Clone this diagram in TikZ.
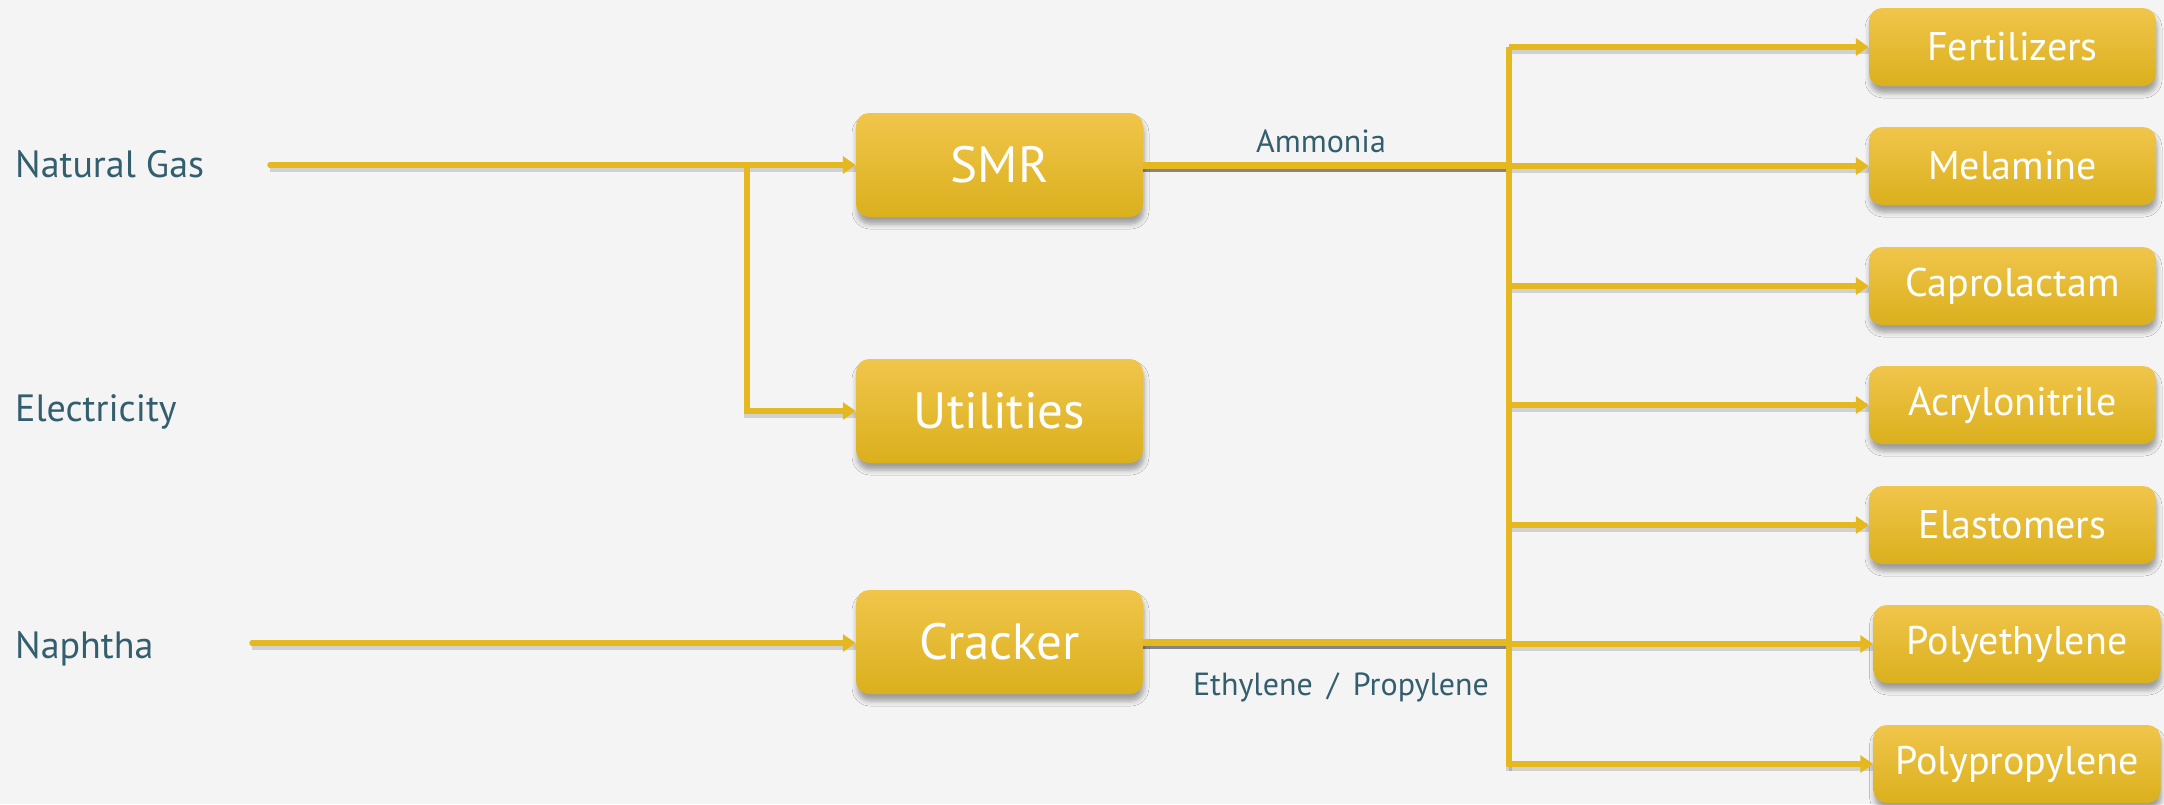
\documentclass[tikz,border=0pt]{standalone}
\usepackage{fontspec}
\setmainfont{PT Sans}
\usetikzlibrary{arrows.meta,shadows.blur}
\definecolor{bgc}{HTML}{F4F4F4}
\definecolor{txt}{HTML}{335E6E}
\definecolor{ln}{HTML}{E6B820}
\definecolor{btop}{HTML}{F1C54B}
\definecolor{bbot}{HTML}{DAB01D}
\begin{document}
\begin{tikzpicture}[x=1pt,y=-1pt,
  box/.style={rounded corners=13pt, top color=btop, bottom color=bbot, draw=none,
    text=white, minimum width=287pt, minimum height=104pt, inner sep=0pt,
    blur shadow={shadow xshift=1pt, shadow yshift=-7pt, shadow blur radius=5pt, shadow opacity=35},
    font=\fontsize{51}{51}\selectfont},
  pbox/.style={box, minimum height=78pt, font=\fontsize{40}{40}\selectfont},
  src/.style={text=txt, anchor=base west, inner sep=0pt, font=\fontsize{38}{38}\selectfont},
  lbl/.style={text=txt, anchor=base, inner sep=0pt, font=\fontsize{32}{32}\selectfont},
  flow/.style={draw=ln, line width=5.5pt, -{Triangle[length=13pt,width=17pt]}},
  bus/.style={draw=ln, line width=5.5pt},
  outline/.style={draw=ln, line width=7pt},
  lshadow/.style={draw=black, opacity=0.14, line width=6pt, transform canvas={yshift=-4pt}},
  dshadow/.style={draw=black, opacity=0.45, line width=5pt, transform canvas={yshift=-4pt}}
]
\useasboundingbox (0,0) rectangle (2164,804);
\fill[bgc] (0,0) rectangle (2164,804);

% source labels
\node[src] (ng) at (15,177) {Natural Gas};
\node[src] (el) at (15,421) {Electricity};
\node[src] (nap) at (15,658) {Naphtha};

% process boxes
\node[box] (smr) at (999.5,165) {SMR};
\node[box] (util) at (999.5,411) {Utilities};
\node[box] (crk) at (999.5,642) {Cracker};

% product boxes
\node[pbox] (fer) at (2012.5,47) {Fertilizers};
\node[pbox] (mel) at (2012.5,166) {Melamine};
\node[pbox] (cap) at (2012.5,286) {Caprolactam};
\node[pbox] (acr) at (2012.5,405) {Acrylonitrile};
\node[pbox] (ela) at (2012.5,525) {Elastomers};
\node[pbox] (pe) at (2017,644) {Polyethylene};
\node[pbox] (pp) at (2017,764) {Polypropylene};

% coordinates
\coordinate (ngs) at (270,165);
\coordinate (j1) at (747,165);
\coordinate (naps) at (252,643);
\coordinate (bt) at (1509,47);
\coordinate (bb) at (1509,767);

% shadows of connectors
\draw[lshadow] (ngs) -- (ngs -| smr.west);
\draw[lshadow] (j1) |- (util.west);
\draw[lshadow] (naps) -- (naps -| crk.west);
\draw[lshadow] (bt) -- (bb);
\foreach \n in {fer,mel,cap,acr,ela,pe,pp}{
  \draw[lshadow] (bt |- \n.west) -- (\n.west);
}
\draw[dshadow] (smr.east) -- (smr.east -| bt);
\draw[dshadow] (crk.east) -- (crk.east -| bt);

% connectors
\draw[flow, line cap=round] (ngs) -- (ngs -| smr.west);
\draw[flow] (j1) |- (util.west);
\draw[flow, line cap=round] (naps) -- (naps -| crk.west);
\draw[bus] (bt) -- (bb);
\foreach \n in {fer,mel,cap,acr,ela,pe,pp}{
  \draw[flow] (bt |- \n.west) -- (\n.west);
}
\draw[outline] (smr.east) -- (smr.east -| bt);
\draw[outline] (crk.east) -- (crk.east -| bt);

% flow labels
\node[lbl] (amm) at (1321,152) {Ammonia};
\node[lbl] (eth) at (1341,695) {Ethylene\hspace{0.45em}/\hspace{0.45em}Propylene};
\end{tikzpicture}
\end{document}
